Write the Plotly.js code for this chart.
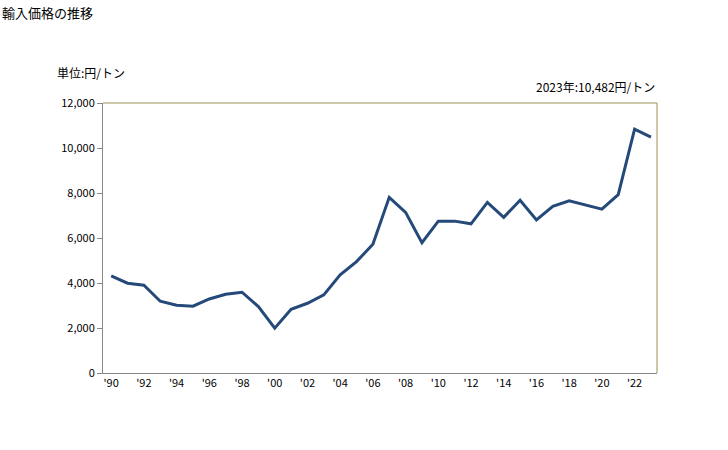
<!DOCTYPE html>
<html>
<head>
<meta charset="utf-8">
<script src="https://cdn.plot.ly/plotly-3.0.1.min.js"></script>
<style>html,body{margin:0;padding:0;background:#fff;}#chart{width:728px;height:450px;}</style>
</head>
<body>
<div id="chart"></div>
<script>
const years = [1990,1991,1992,1993,1994,1995,1996,1997,1998,1999,2000,2001,2002,2003,2004,2005,2006,2007,2008,2009,2010,2011,2012,2013,2014,2015,2016,2017,2018,2019,2020,2021,2022,2023];
const prices = [4320,3990,3900,3190,3010,2970,3290,3500,3590,2950,1990,2830,3100,3470,4360,4950,5720,7810,7140,5790,6750,6750,6630,7580,6920,7680,6800,7410,7650,7470,7280,7930,10840,10482];
const xTickVals = [1990,1992,1994,1996,1998,2000,2002,2004,2006,2008,2010,2012,2014,2016,2018,2020,2022];
const xTickText = ["'90","'92","'94","'96","'98","'00","'02","'04","'06","'08","'10","'12","'14","'16","'18","'20","'22"];
const yTickVals = [0,2000,4000,6000,8000,10000,12000];
const yTickText = ["0","2,000","4,000","6,000","8,000","10,000","12,000"];
const titleText = "輸入価格の推移";
const unitText = "単位:円/トン";
const noteText = "2023年:10,482円/トン";

const font = "'Noto Sans CJK JP', 'Noto Sans', sans-serif";
const trace = {
  x: years, y: prices, type: 'scatter', mode: 'lines',
  line: {color: '#254a7a', width: 3}, hoverinfo: 'skip'
};
const layout = {
  width: 728, height: 450,
  margin: {l: 103, r: 71, t: 103, b: 77},
  paper_bgcolor: '#fff', plot_bgcolor: '#fff',
  showlegend: false,
  font: {family: font, size: 11, color: '#000'},
  xaxis: {
    range: [1989.5, 2023.37], tickvals: xTickVals, ticktext: xTickText,
    showgrid: false, zeroline: false, showline: true, linecolor: '#888', linewidth: 1,
    ticks: '', tickfont: {family: font, size: 11, color: '#000'}
  },
  yaxis: {
    range: [0, 12000], tickvals: yTickVals, ticktext: yTickText,
    showgrid: false, zeroline: false, showline: true, linecolor: '#888', linewidth: 1,
    ticks: 'outside', ticklen: 5, tickcolor: '#888', tickfont: {family: font, size: 11, color: '#000'}
  },
  shapes: [
    {type: 'line', xref: 'paper', yref: 'paper', x0: 0, x1: 1, y0: 1, y1: 1, line: {color: '#9b9150', width: 1}},
    {type: 'line', xref: 'paper', yref: 'paper', x0: 1, x1: 1, y0: 0, y1: 1, line: {color: '#9b9150', width: 1}}
  ],
  annotations: [
    {text: titleText, xref: 'paper', yref: 'paper', x: -103/554, y: 1 + 91/270, xanchor: 'left', yanchor: 'middle', showarrow: false, font: {family: font, size: 13, color: '#000'}},
    {text: unitText, xref: 'paper', yref: 'paper', x: -48/554, y: 1 + 30/270, xanchor: 'left', yanchor: 'middle', showarrow: false, font: {family: font, size: 12, color: '#000'}},
    {text: noteText, xref: 'paper', yref: 'paper', x: 1, y: 1 + 17/270, xanchor: 'right', yanchor: 'middle', showarrow: false, font: {family: font, size: 12, color: '#000'}}
  ]
};
Plotly.newPlot('chart', [trace], layout, {staticPlot: true, displayModeBar: false});
</script>
</body>
</html>
